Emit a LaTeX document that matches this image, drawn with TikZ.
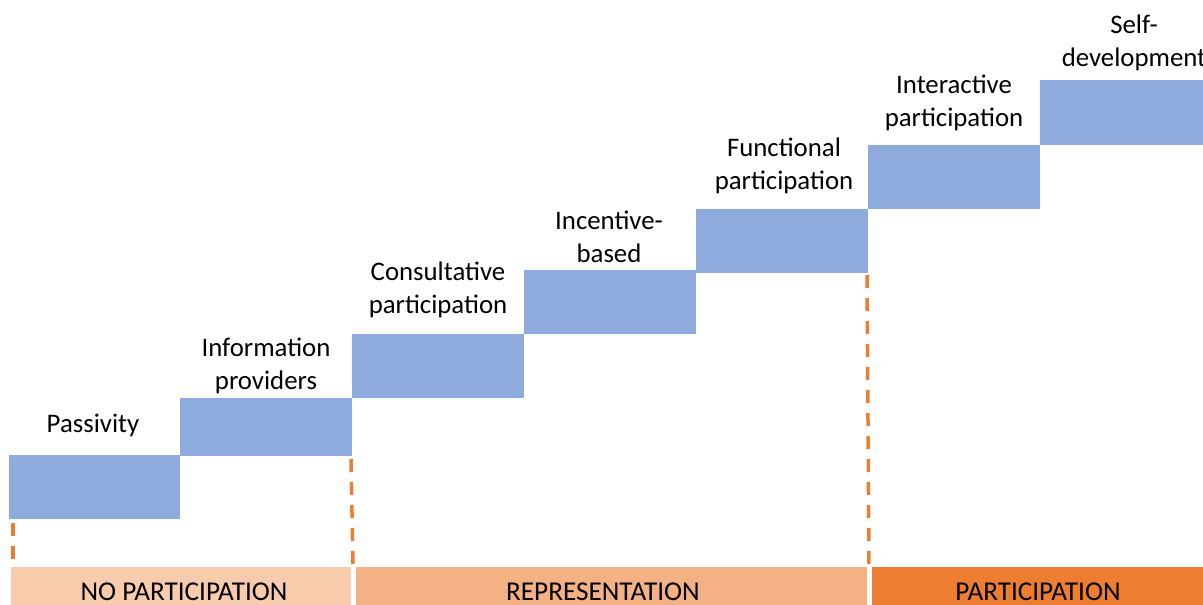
\documentclass[tikz,border=0pt]{standalone}
\usepackage{fontspec}
\setmainfont{Carlito}
\definecolor{stepblue}{HTML}{8FAADC}
\definecolor{barA}{HTML}{F8CBAD}
\definecolor{barB}{HTML}{F4B183}
\definecolor{barC}{HTML}{ED7D31}
\definecolor{dashor}{HTML}{ED7D31}
\begin{document}
\begin{tikzpicture}[x=1pt,y=-1pt,
  stepbox/.style={fill=stepblue,draw=none,inner sep=0pt,anchor=north west},
  lbl/.style={font=\fontsize{26.8}{32.5}\selectfont,align=center,inner sep=0pt,text=black},
  barlbl/.style={font=\fontsize{27.2}{30}\selectfont,inner sep=0pt,text=black},
  barbox/.style={draw=none,inner sep=0pt,anchor=north west},
  guide/.style={draw=dashor,line width=3.5pt,dash pattern=on 13pt off 10pt}]
\useasboundingbox (0,0) rectangle (1203,605);
% steps
\node[stepbox,minimum width=171pt,minimum height=64pt] (s1) at (9,455) {};
\node[stepbox,minimum width=172pt,minimum height=58pt] (s2) at (180,398) {};
\node[stepbox,minimum width=172pt,minimum height=64pt] (s3) at (352,334) {};
\node[stepbox,minimum width=172pt,minimum height=64pt] (s4) at (524,270) {};
\node[stepbox,minimum width=172pt,minimum height=64pt] (s5) at (696,209) {};
\node[stepbox,minimum width=172pt,minimum height=64pt] (s6) at (868,145) {};
\node[stepbox,minimum width=163pt,minimum height=65pt] (s7) at (1040,80) {};
% labels
\node[lbl] (l1) at (93,425) {Passivity};
\node[lbl] (l2) at (266,366) {Information\\providers};
\node[lbl] (l3) at (438,290) {Consultative\\participation};
\node[lbl] (l4) at (609,237) {Incentive-\\based};
\node[lbl] (l5) at (784,166) {Functional\\participation};
\node[lbl] (l6) at (954,103) {Interactive\\participation};
\node[lbl] (l7) at (1134,43) {Self-\\development};
% bars
\node[barbox,fill=barA,minimum width=340pt,minimum height=38pt] (b1) at (11,567) {};
\node[barbox,fill=barB,minimum width=511pt,minimum height=38pt] (b2) at (356,567) {};
\node[barbox,fill=barC,minimum width=331pt,minimum height=38pt] (b3) at (872,567) {};
\node[barlbl] (t1) at (184,592) {NO PARTICIPATION};
\node[barlbl] (t2) at (603,592) {REPRESENTATION};
\node[barlbl] (t3) at (1038,592) {PARTICIPATION};
% dashed guides
\coordinate (d1a) at (13,523);
\coordinate (d1b) at (13,566);
\coordinate (d2a) at (351,459);
\coordinate (d2b) at (353,566);
\coordinate (d3a) at (867,275);
\coordinate (d3b) at (869,566);
\draw[guide] (d1a) -- (d1b);
\draw[guide] (d2a) -- (d2b);
\draw[guide] (d3a) -- (d3b);
\end{tikzpicture}
\end{document}
